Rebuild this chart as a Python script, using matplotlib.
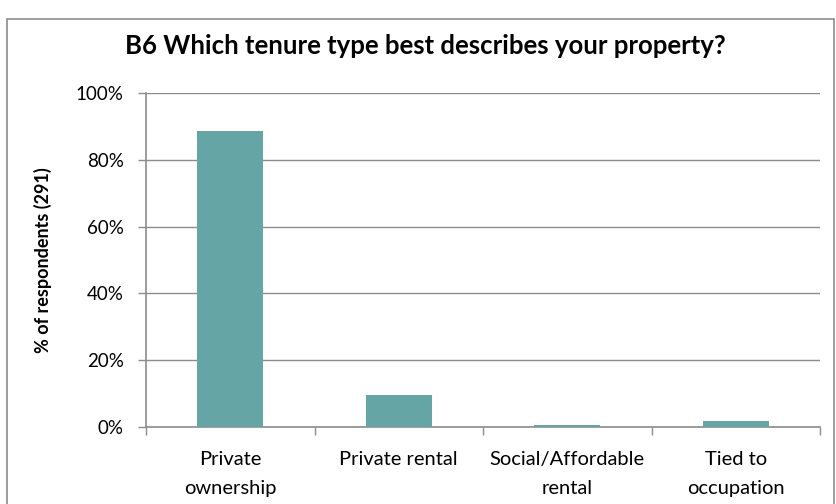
import matplotlib.pyplot as plt
from matplotlib.patches import Rectangle
from matplotlib.ticker import FuncFormatter, MultipleLocator

# =============================================================================
# Data
# =============================================================================

categories = ["Private\nownership", "Private rental", "Social/Affordable\nrental", "Tied to\noccupation"]
percent = [88.7, 9.6, 0.7, 1.7]

title = "B6 Which tenure type best describes your property?"
ylabel = "% of respondents (291)"

# =============================================================================
# Chart
# =============================================================================

plt.rcParams["font.family"] = ["Lato", "DejaVu Sans"]

fig = plt.figure(figsize=(8.37, 5.04), dpi=100)
ax = fig.add_axes([146 / 837, 1 - 427 / 504, (820 - 146) / 837, (427 - 93) / 504])

# chart border
fig.patches.append(Rectangle((7 / 837, -0.05), 827 / 837, 1 - 19 / 504 + 0.05,
                             transform=fig.transFigure, fill=False,
                             edgecolor="#8c8c8c", linewidth=1.2))

x = range(len(categories))
ax.bar(x, percent, width=0.39, color="#66A5A5", zorder=3)

ax.set_xlim(-0.5, len(categories) - 0.5)
ax.set_ylim(0, 100)
ax.yaxis.set_major_locator(MultipleLocator(20))
ax.yaxis.set_major_formatter(FuncFormatter(lambda v, p: f"{v:.0f}%"))
ax.grid(axis="y", color="#8c8c8c", linewidth=1, zorder=0)

ax.set_xticks([i - 0.5 for i in range(len(categories) + 1)])
ax.set_xticklabels([])
ax.set_xticks(list(x), minor=True)
ax.set_xticklabels(categories, minor=True, fontsize=14.5, linespacing=1.9)
ax.tick_params(axis="x", which="major", length=6, color="#8c8c8c", width=1)
ax.tick_params(axis="x", which="minor", length=0, pad=17)
ax.tick_params(axis="y", length=6, color="#8c8c8c", width=1, labelsize=13.5, pad=10)

for side in ["top", "right"]:
    ax.spines[side].set_visible(False)
for side in ["left", "bottom"]:
    ax.spines[side].set_color("#8c8c8c")
    ax.spines[side].set_linewidth(1.2)

ax.set_ylabel(ylabel, fontsize=13, fontweight="bold", labelpad=17)
fig.text(425 / 837, 1 - 46 / 504, title, ha="center", va="center",
         fontsize=18.5, fontweight="bold")

fig.savefig("out.png", dpi=100)
